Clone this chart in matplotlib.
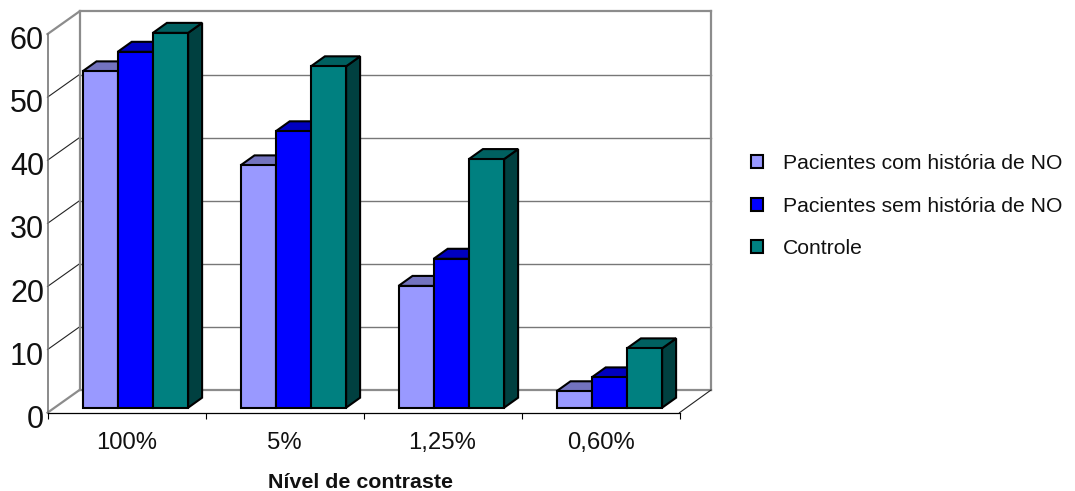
import matplotlib
matplotlib.use('Agg')
import matplotlib.pyplot as plt
from matplotlib.patches import Patch, Polygon
from matplotlib.transforms import ScaledTranslation

plt.rcParams['font.family'] = ['Liberation Sans', 'DejaVu Sans']

categorias = ['100%', '5%', '1,25%', '0,60%']
com_historia = [53.3, 38.4, 19.3, 2.6]
sem_historia = [56.4, 43.8, 23.6, 4.8]
controle = [59.4, 54.1, 39.4, 9.4]
niveis_y = [0, 10, 20, 30, 40, 50, 60]

series = [
    ('Pacientes com história de NO', com_historia, '#9999FF', '#7373BF', '#4D4D80'),
    ('Pacientes sem história de NO', sem_historia, '#0000FF', '#0000BF', '#000080'),
    ('Controle', controle, '#008080', '#006060', '#004040'),
]

W, H = 1075, 491
PX_CAT = 158.0    # pixels por categoria
PX_VAL = 6.31     # pixels por unidade do eixo y
LEFT, BOTTOM, RIGHT, TOP = 47.5, 412.7, 711.0, 11.0

# profundidade da "caixa" 3D, em unidades dos eixos
WALL_DX = 32.0 / PX_CAT
WALL_DY = 22.7 / PX_VAL
BAR_DX = 14.0 / PX_CAT
BAR_DY = 10.0 / PX_VAL
BAR_X0 = 35.0 / PX_CAT
BAR_W = 35.2 / PX_CAT
BAR_Y0 = 5.0 / PX_VAL

fig = plt.figure(figsize=(W / 100, H / 100), dpi=100)
ax = fig.add_axes([LEFT / W, 1 - BOTTOM / H, (RIGHT - LEFT) / W, (BOTTOM - TOP) / H])
ax.set_xlim(0, (RIGHT - LEFT) / PX_CAT)
ax.set_ylim(0, (BOTTOM - TOP) / PX_VAL)
ax.patch.set_visible(False)

GRAY = '#8C8C8C'
xmax = ax.get_xlim()[1]

# paredes e linhas de grade
for v in niveis_y:
    borda = v in (0, 60)
    ax.plot([WALL_DX, xmax], [v + WALL_DY] * 2, color=GRAY if borda else '#777777',
            lw=1.6 if borda else 1.0, clip_on=False, zorder=1)
    ax.plot([0, WALL_DX], [v, v + WALL_DY], color=GRAY if borda else '#222222',
            lw=1.6 if borda else 0.8, clip_on=False, zorder=1)
topo = niveis_y[-1] + WALL_DY
ax.plot([WALL_DX, WALL_DX], [WALL_DY, topo], color=GRAY, lw=1.6, clip_on=False, zorder=1)
ax.plot([xmax, xmax], [WALL_DY, topo], color=GRAY, lw=1.6, clip_on=False, zorder=1)
ax.plot([len(categorias), xmax], [0, WALL_DY], color='#222222', lw=0.8, clip_on=False, zorder=1)


def barra(x, valor, frente, cima, lado):
    y0, y1 = BAR_Y0, BAR_Y0 + valor
    x1 = x + BAR_W
    faces = [
        ([(x1, y0), (x1 + BAR_DX, y0 + BAR_DY), (x1 + BAR_DX, y1 + BAR_DY), (x1, y1)], lado),
        ([(x, y1), (x1, y1), (x1 + BAR_DX, y1 + BAR_DY), (x + BAR_DX, y1 + BAR_DY)], cima),
        ([(x, y0), (x1, y0), (x1, y1), (x, y1)], frente),
    ]
    for pts, cor in faces:
        ax.add_patch(Polygon(pts, closed=True, facecolor=cor, edgecolor='black',
                             lw=1.5, joinstyle='miter', zorder=3))


for i in range(len(categorias)):
    for j, (nome, valores, frente, cima, lado) in enumerate(series):
        barra(i + BAR_X0 + j * BAR_W, valores[i], frente, cima, lado)

# eixos
for s in ('top', 'right'):
    ax.spines[s].set_visible(False)
ax.spines['left'].set_bounds(0, niveis_y[-1])
ax.spines['left'].set_color('#777777')
ax.spines['left'].set_linewidth(1.2)
ax.spines['bottom'].set_bounds(0, len(categorias))
ax.spines['bottom'].set_linewidth(0.9)

ax.set_yticks(niveis_y)
ax.set_yticklabels([str(v) for v in niveis_y], fontsize=22, color='#111111')
ax.tick_params(axis='y', length=0, pad=2.5)
desce = ScaledTranslation(0, -3.6 / 100, fig.dpi_scale_trans)
for lab in ax.get_yticklabels():
    lab.set_transform(lab.get_transform() + desce)

ax.set_xticks(range(len(categorias) + 1))
ax.set_xticklabels([])
ax.tick_params(axis='x', which='major', length=4.5, width=0.8)
ax.set_xticks([i + 0.5 for i in range(len(categorias))], minor=True)
ax.set_xticklabels(categorias, minor=True, fontsize=17.2, color='#111111')
ax.tick_params(axis='x', which='minor', length=0, pad=14)

fig.text(360 / W, 1 - 482 / H, 'Nível de contraste', fontsize=15.4, fontweight='bold',
         ha='center', va='center', color='#111111')

handles = [Patch(facecolor=s[2], edgecolor='black', lw=1.5) for s in series]
fig.legend(handles, [s[0] for s in series], loc='upper left',
           bbox_to_anchor=(751 / W, 1 - 154 / H), frameon=False, fontsize=15.2,
           handlelength=0.55, handleheight=0.55, handletextpad=0.95,
           labelspacing=1.12, borderpad=0, borderaxespad=0, labelcolor='#111111')

fig.savefig('out.png', dpi=100)
